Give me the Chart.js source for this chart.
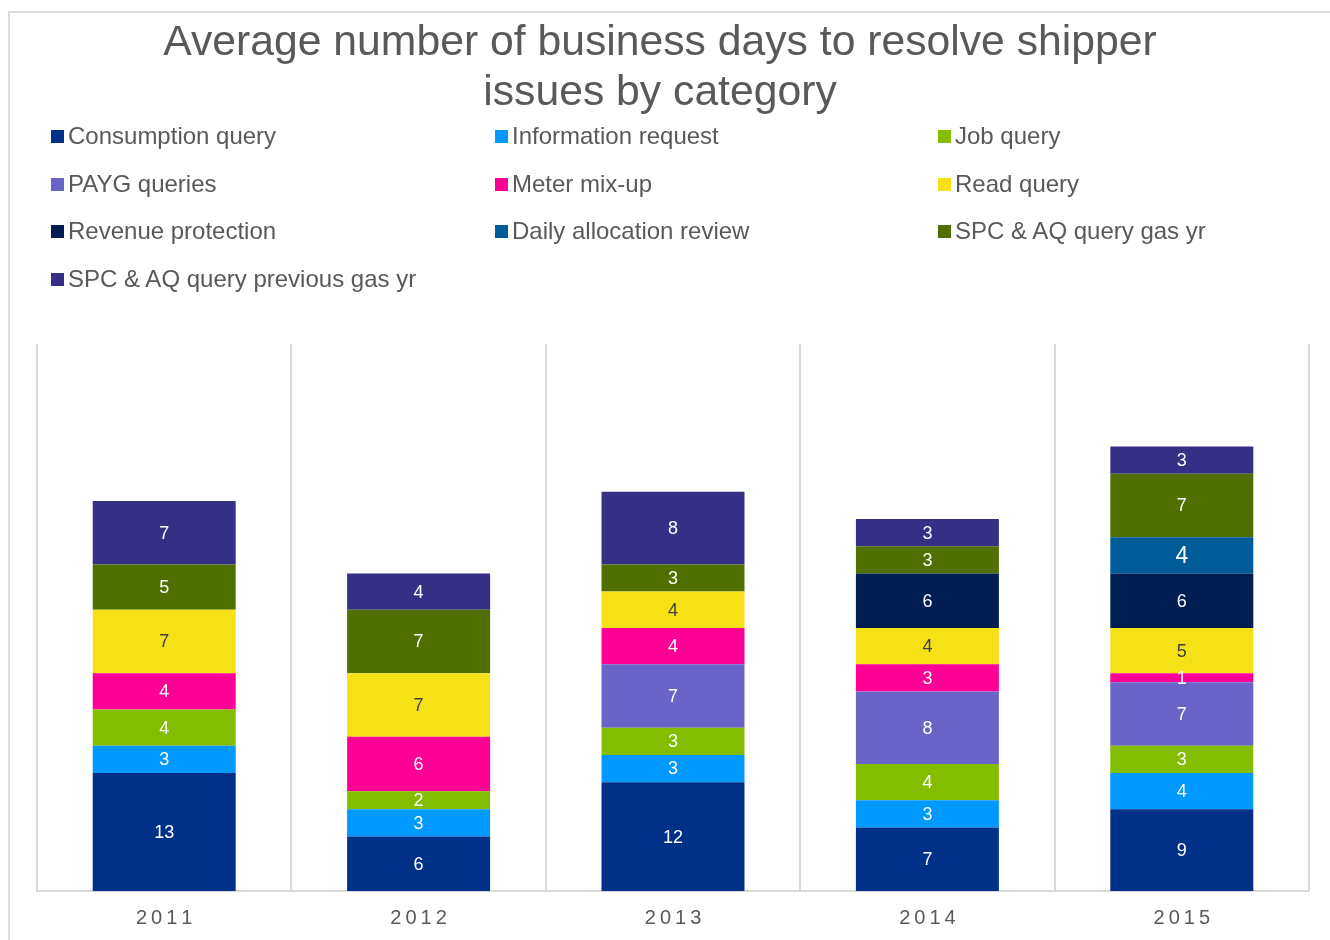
<!DOCTYPE html>
<html>
<head>
<meta charset="utf-8">
<script src="https://cdn.jsdelivr.net/npm/chart.js@4/dist/chart.umd.min.js"></script>
<style>
    html, body { margin: 0; padding: 0; background: #fff; }
    body { width: 1330px; height: 940px; position: relative; overflow: hidden; font-family: "Liberation Sans", Arial, sans-serif; }
    #frame { position: absolute; left: 8px; top: 11px; width: 1400px; height: 1000px; border-left: 2px solid #dcdcdc; border-top: 2px solid #dcdcdc; }
    #chart-wrap { position: absolute; left: 0; top: 0; width: 1330px; height: 940px; }
    #legend { position: absolute; left: 51px; top: 120px; width: 1280px; }
    .legend-item { position: absolute; display: flex; align-items: center; color: #595959; font-size: 24px; white-space: nowrap; height: 32px; }
    .legend-box { width: 13px; height: 13px; margin-right: 4px; }
</style>
</head>
<body>
<div id="frame"></div>
<div id="chart-wrap"><canvas id="issues-chart" width="1330" height="940"></canvas></div>
<div id="legend"></div>
<script>
const years = ['2011', '2012', '2013', '2014', '2015'];

const consumptionQuery = [13, 6, 12, 7, 9];
const informationRequest = [3, 3, 3, 3, 4];
const jobQuery = [4, 2, 3, 4, 3];
const paygQueries = [0, 0, 7, 8, 7];
const meterMixUp = [4, 6, 4, 3, 1];
const readQuery = [7, 7, 4, 4, 5];
const revenueProtection = [0, 0, 0, 6, 6];
const dailyAllocationReview = [0, 0, 0, 0, 4];
const spcGasYr = [5, 7, 3, 3, 7];
const spcPreviousGasYr = [7, 4, 8, 3, 3];

const seriesNames = [
    'Consumption query', 'Information request', 'Job query',
    'PAYG queries', 'Meter mix-up', 'Read query',
    'Revenue protection', 'Daily allocation review', 'SPC & AQ query gas yr',
    'SPC & AQ query previous gas yr'
];
const seriesValues = [
    consumptionQuery, informationRequest, jobQuery,
    paygQueries, meterMixUp, readQuery,
    revenueProtection, dailyAllocationReview, spcGasYr,
    spcPreviousGasYr
];
const seriesColors = [
    '#003087', '#0099ff', '#84bd00',
    '#6a63c8', '#ff0096', '#f6e117',
    '#001e52', '#005b99', '#4f7000',
    '#352f85'
];

const datasets = seriesNames.map((name, i) => ({
    label: name,
    data: seriesValues[i],
    backgroundColor: seriesColors[i],
    borderWidth: 0,
    barPercentage: 1,
    categoryPercentage: 0.562
}));

// values written in the middle of each segment
const segmentLabels = {
    id: 'segmentLabels',
    afterDatasetsDraw(chart) {
        const ctx = chart.ctx;
        ctx.save();
        ctx.textAlign = 'center';
        ctx.textBaseline = 'middle';
        chart.data.datasets.forEach((ds, i) => {
            const meta = chart.getDatasetMeta(i);
            meta.data.forEach((bar, j) => {
                const v = ds.data[j];
                if (!v) return;
                const size = ds.label === 'Daily allocation review' ? 23 : 18;
                ctx.font = size + 'px "Liberation Sans", Arial, sans-serif';
                ctx.fillStyle = ds.label === 'Read query' ? '#404040' : '#ffffff';
                ctx.fillText(String(v), bar.x, (bar.y + bar.base) / 2 + 1);
            });
        });
        ctx.restore();
    }
};

const ctx = document.getElementById('issues-chart').getContext('2d');
const chart = new Chart(ctx, {
    type: 'bar',
    data: { labels: years, datasets: datasets },
    options: {
        responsive: false,
        animation: false,
        layout: { padding: { left: 11, right: 21, top: 0, bottom: 0 } },
        plugins: {
            legend: { display: false },
            tooltip: { enabled: false },
            title: {
                display: true,
                text: ['Average number of business days to resolve shipper', 'issues by category'],
                color: '#595959',
                font: { family: '"Liberation Sans", Arial, sans-serif', size: 42.7, weight: 'normal', lineHeight: 1.17 },
                padding: { top: 18, bottom: 226 }
            }
        },
        scales: {
            x: {
                stacked: true,
                afterFit: function(scale) { scale.height = 49; },
                grid: { display: true, offset: true, color: '#d9d9d9', lineWidth: 2, drawTicks: false },
                border: { display: true, color: '#d9d9d9', width: 2 },
                ticks: {
                    color: '#595959',
                    padding: 15,
                    font: { family: '"Liberation Sans", Arial, sans-serif', size: 20 },
                    callback: function(value) {
                        return this.getLabelForValue(value).split('').join('\u2009');
                    }
                }
            },
            y: {
                stacked: true,
                min: 0,
                max: 60.3,
                afterFit: function(scale) { scale.width = 26; },
                grid: { display: false },
                border: { display: false },
                ticks: { display: false }
            }
        }
    },
    plugins: [segmentLabels]
});

// legend in three columns, built from the chart's datasets
const legendEl = document.getElementById('legend');
const colX = [0, 444, 887];
const rowY = [0, 48, 95, 143];
chart.data.datasets.forEach((ds, i) => {
    const item = document.createElement('div');
    item.className = 'legend-item';
    item.style.left = colX[i % 3] + 'px';
    item.style.top = rowY[Math.floor(i / 3)] + 'px';
    item.innerHTML = `<span class="legend-box" style="background:${ds.backgroundColor}"></span><span>${ds.label}</span>`;
    legendEl.appendChild(item);
});
</script>
</body>
</html>
